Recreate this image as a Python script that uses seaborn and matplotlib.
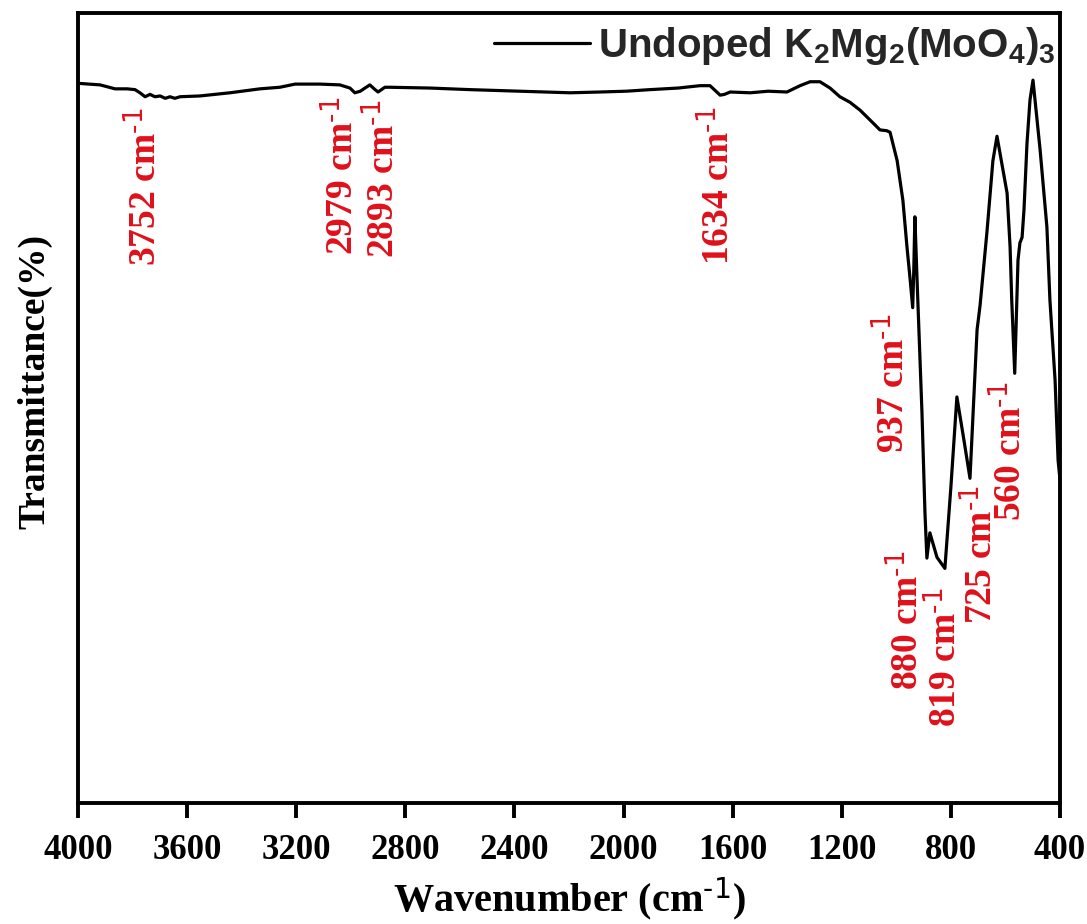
import numpy as np
import pandas as pd
import matplotlib
matplotlib.use("Agg")
import matplotlib.pyplot as plt
from matplotlib.font_manager import FontProperties
import seaborn as sns

# ---- data ----
wavenumber = [4000, 3919, 3864, 3820, 3791, 3773, 3754, 3736, 3718, 3699, 3680, 3663,
              3645, 3626, 3553, 3443, 3333, 3260, 3204, 3113, 3040, 3003, 2985, 2965,
              2948, 2930, 2911, 2900, 2875, 2856, 2710, 2563, 2380, 2196, 2086, 1990,
              1903, 1800, 1720, 1683, 1646, 1630, 1609, 1536, 1470, 1401, 1353, 1316,
              1280, 1243, 1207, 1170, 1133, 1086, 1060, 1035, 1023, 997, 976, 961,
              950, 940, 936, 932, 924, 906, 895, 888, 877, 851, 822, 800,
              778, 752, 730, 704, 693, 668, 646, 631, 594, 583, 577, 566,
              554, 547, 539, 532, 521, 510, 499, 473, 448, 437, 430, 418, 407, 400]
transmittance = [91.1, 90.9, 90.4, 90.4, 90.3, 89.9, 89.4, 89.7, 89.4, 89.5, 89.2, 89.4,
                 89.2, 89.4, 89.5, 89.9, 90.4, 90.6, 91.0, 91.0, 90.9, 90.5, 89.9, 90.1,
                 90.5, 90.9, 90.3, 90.0, 90.6, 90.6, 90.5, 90.3, 90.1, 89.9, 90.0, 90.1,
                 90.3, 90.5, 90.8, 90.8, 89.6, 89.7, 90.0, 89.9, 90.1, 90.0, 90.8, 91.3,
                 91.3, 90.5, 89.4, 88.7, 87.7, 86.1, 85.2, 85.1, 84.9, 81.3, 76.3, 70.4,
                 66.5, 62.7, 67.5, 74.2, 66.2, 49.4, 36.7, 31.0, 34.2, 31.1, 29.7, 40.0,
                 51.4, 45.9, 41.1, 59.9, 63.0, 72.2, 81.3, 84.4, 77.2, 70.4, 63.7, 54.4,
                 68.7, 70.9, 71.6, 75.1, 83.5, 89.0, 91.5, 82.7, 72.9, 63.7, 59.9, 53.5,
                 43.4, 40.9]
series_name = "Undoped K$_2$Mg$_2$(MoO$_4$)$_3$"

peak_labels = ["3752", "2979", "2893", "1634", "937", "880", "819", "725", "560"]
label_wn = [3756, 3032, 2882, 1654, 1012, 961, 822, 690, 583]
label_top = [88.0, 89.4, 89.0, 88.1, 62.0, 32.0, 27.3, 40.3, 53.3]

x_ticks = [4000, 3600, 3200, 2800, 2400, 2000, 1600, 1200, 800, 400]

df = pd.DataFrame({"Wavenumber": wavenumber, "Transmittance": transmittance})

sns.set_theme(style="ticks")
plt.rcParams["font.family"] = ["Liberation Serif", "DejaVu Serif"]
plt.rcParams["mathtext.default"] = "regular"

fig = plt.figure(figsize=(10.87, 9.24), dpi=100)
ax = fig.add_axes([78 / 1087, 1 - 803 / 924, (1060 - 78) / 1087, (803 - 13) / 924])

sns.lineplot(data=df, x="Wavenumber", y="Transmittance", ax=ax, color="black",
             linewidth=2.3, label=series_name, estimator=None, sort=False)

ax.set_xlim(4000, 400)
ax.set_ylim(0, 100)
ax.set_xticks(x_ticks)
ax.set_xticklabels([str(t) for t in x_ticks])
ax.set_yticks([])

for s in ax.spines.values():
    s.set_linewidth(2.8)
    s.set_color("black")

ax.tick_params(axis="x", direction="out", length=11, width=2.8, pad=11,
               labelsize=25, colors="black")
for lab in ax.get_xticklabels():
    lab.set_fontweight("bold")
    lab.set_family("Liberation Serif")

sup = r"$^{\text{-1}}$"
ax.set_xlabel("Wavenumber (cm" + sup + ")", fontsize=29, fontweight="bold",
              family="Liberation Serif", color="black")
ax.xaxis.set_label_coords(0.5, -0.092)
ax.set_ylabel("Transmittance(%)", fontsize=27, fontweight="bold",
              family="Liberation Serif", color="black")
ax.yaxis.set_label_coords(-0.026, 0.533)

red = "#E0101A"
for lab, wx, ty in zip(peak_labels, label_wn, label_top):
    ax.text(wx, ty, lab + " cm" + sup, rotation=90, ha="center", va="top",
            color=red, fontsize=27, fontweight="bold", family="Liberation Serif")

leg = ax.legend(loc="upper right", bbox_to_anchor=(1.0, 0.99), frameon=False,
                prop=FontProperties(family="Liberation Sans", weight="bold", size=29),
                handlelength=2.4, handletextpad=0.2, borderaxespad=0.05, borderpad=0.05)
for line in leg.get_lines():
    line.set_linewidth(2.3)

fig.savefig("out.png", dpi=100)
